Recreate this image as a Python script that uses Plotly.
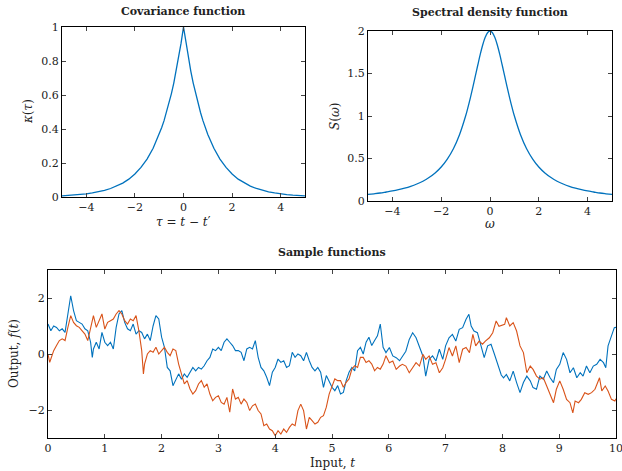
import plotly.graph_objects as go

# ---------------- data ----------------
# half-grid (tau >= 0) for covariance
tau_half = [0, 0.1, 0.2, 0.3, 0.4, 0.5, 0.6, 0.7, 0.8, 0.9, 1.0, 1.25, 1.5, 1.75, 2.0,
            2.25, 2.5, 2.75, 3.0, 3.25, 3.5, 3.75, 4.0, 4.25, 4.5, 4.75, 5.0]
kappa_half = [1.0, 0.905, 0.819, 0.741, 0.670, 0.607, 0.549, 0.497, 0.449, 0.407, 0.368,
              0.287, 0.223, 0.174, 0.135, 0.105, 0.082, 0.064, 0.050, 0.039, 0.030,
              0.024, 0.018, 0.014, 0.011, 0.009, 0.007]
omega_half = tau_half
S_half = [2.0, 1.98, 1.923, 1.835, 1.724, 1.6, 1.471, 1.342, 1.22, 1.105, 1.0,
          0.78, 0.615, 0.493, 0.4, 0.330, 0.276, 0.233, 0.2, 0.173, 0.151,
          0.133, 0.118, 0.106, 0.094, 0.085, 0.077]

t_blue = [0, 0.05, 0.1, 0.15, 0.2, 0.25, 0.3, 0.35, 0.4, 0.45, 0.5, 0.55, 0.6, 0.65, 0.7,
          0.75, 0.78, 0.8, 0.85, 0.9, 0.95, 1.0, 1.05, 1.1, 1.15, 1.2, 1.25, 1.3, 1.35, 1.4,
          1.45, 1.5, 1.55, 1.6, 1.65, 1.7, 1.75, 1.8, 1.85, 1.9, 1.95, 2.0, 2.05, 2.1, 2.15,
          2.2, 2.25, 2.3, 2.35, 2.4, 2.45, 2.5, 2.55, 2.6, 2.65, 2.7, 2.75, 2.8, 2.85, 2.9,
          2.95, 3.0, 3.05, 3.1, 3.15, 3.2, 3.25, 3.3, 3.35, 3.4, 3.45, 3.5, 3.55, 3.6, 3.65,
          3.7, 3.75, 3.8, 3.85, 3.9, 3.95, 4.0, 4.05, 4.1, 4.15, 4.2, 4.25, 4.3, 4.35, 4.4,
          4.45, 4.5, 4.55, 4.6, 4.65, 4.7, 4.75, 4.8, 4.85, 4.9, 4.95, 5.0, 5.05, 5.1, 5.15,
          5.2, 5.25, 5.3, 5.35, 5.4, 5.45, 5.5, 5.55, 5.6, 5.65, 5.7, 5.75, 5.8, 5.85, 5.9,
          5.95, 6.01, 6.07, 6.13, 6.19, 6.24, 6.3, 6.36, 6.42, 6.48, 6.54, 6.6, 6.65, 6.71,
          6.77, 6.83, 6.89, 6.95, 7.0, 7.06, 7.12, 7.18, 7.24, 7.3, 7.36, 7.41, 7.45, 7.5,
          7.56, 7.62, 7.68, 7.74, 7.8, 7.86, 7.92, 7.98, 8.02, 8.07, 8.13, 8.19, 8.25, 8.31,
          8.37, 8.43, 8.49, 8.54, 8.6, 8.66, 8.72, 8.78, 8.84, 8.9, 8.95, 9.01, 9.07, 9.13,
          9.19, 9.25, 9.31, 9.37, 9.42, 9.48, 9.54, 9.6, 9.66, 9.72, 9.78, 9.82, 9.86, 9.92,
          9.97, 10.0]
f_blue = [1.07, 0.83, 1.0, 0.95, 0.83, 0.9, 0.77, 1.43, 2.08, 1.55, 1.19, 1.13, 1.07, 0.9, 0.83,
          0.42, -0.12, 0.18, 0.42, 0.18, 0.77, 0.42, 0.3, 0.42, 0.18, 0.95, 1.43, 1.55, 1.13, 0.9,
          0.83, 1.07, 0.71, 0.83, 0.77, 0.54, 0.71, 0.48, 1.0, 1.37, 1.25, 0.6, 0.24, -0.48, -0.6,
          -1.13, -0.9, -0.71, -0.9, -0.71, -0.83, -0.65, -0.48, -0.6, -0.48, -0.54, -0.42, -0.24, -0.12, 0.18,
          0.12, 0.24, 0.12, 0.42, 0.54, 0.42, 0.3, 0.12, 0.12, 0.06, -0.24, 0.18, 0.24, 0.18, 0.48,
          -0.12, -0.48, -0.6, -0.83, -1.13, -0.65, -0.48, -0.18, -0.3, -0.24, -0.48, -0.42, 0.06, -0.12, 0.0,
          -0.06, -0.24, 0.06, -0.24, -0.48, -0.6, -0.48, -0.65, -1.19, -0.77, -1.01, -1.19, -1.31, -1.13, -1.43,
          -1.37, -0.95, -0.65, -0.48, -0.6, 0.12, 0.24, 0.0, 0.42, 0.6, 0.3, 0.48, 0.65, 1.07, 0.24,
          0.05, 0.23, -0.07, -0.13, -0.24, -0.07, 0.1, 0.52, 0.76, 0.58, 0.23, -0.07, -0.79, -0.19,
          -0.07, -0.25, 0.17, -0.19, 0.29, 0.58, 0.7, 0.46, 0.88, 0.94, 1.24, 1.42, 1.0, 0.82,
          0.76, 0.29, -0.13, 0.29, 0.35, -0.01, -0.37, -0.75, -0.85, -0.73, -0.96, -0.61, -1.02, -1.38,
          -1.02, -0.79, -0.96, -1.2, -1.26, -0.79, -0.9, -0.61, -0.85, -1.02, -0.55, -0.37, 0.05, -0.19,
          -0.67, -0.49, -0.85, -0.67, -0.79, -0.43, -0.67, -0.43, -0.37, -0.19, -0.31, -0.49, 0.29, 0.64,
          0.94, 0.95]

t_orange = [0, 0.03, 0.05, 0.1, 0.15, 0.2, 0.25, 0.3, 0.35, 0.4, 0.45, 0.5, 0.55, 0.6, 0.65,
            0.7, 0.75, 0.8, 0.85, 0.9, 0.95, 1.0, 1.05, 1.1, 1.15, 1.2, 1.25, 1.3, 1.35, 1.4,
            1.45, 1.5, 1.55, 1.6, 1.65, 1.68, 1.7, 1.75, 1.8, 1.85, 1.9, 1.95, 2.0, 2.05, 2.1,
            2.15, 2.2, 2.25, 2.3, 2.35, 2.4, 2.45, 2.5, 2.55, 2.6, 2.65, 2.7, 2.75, 2.8, 2.85,
            2.9, 2.95, 3.0, 3.05, 3.1, 3.15, 3.2, 3.25, 3.3, 3.35, 3.4, 3.45, 3.5, 3.55, 3.6,
            3.65, 3.7, 3.75, 3.8, 3.85, 3.9, 3.95, 4.0, 4.05, 4.1, 4.15, 4.2, 4.25, 4.3, 4.35,
            4.4, 4.45, 4.5, 4.55, 4.6, 4.65, 4.7, 4.75, 4.8, 4.85, 4.9, 4.95, 5.0, 5.05, 5.1,
            5.15, 5.2, 5.25, 5.3, 5.35, 5.4, 5.45, 5.5, 5.55, 5.6, 5.65, 5.7, 5.75, 5.8, 5.85,
            5.9, 5.95, 6.01, 6.07, 6.13, 6.19, 6.24, 6.3, 6.36, 6.42, 6.48, 6.54, 6.6, 6.65,
            6.71, 6.77, 6.83, 6.89, 6.95, 7.0, 7.06, 7.12, 7.18, 7.24, 7.3, 7.36, 7.42, 7.48,
            7.53, 7.59, 7.65, 7.7, 7.77, 7.83, 7.89, 7.94, 8.0, 8.04, 8.07, 8.13, 8.19, 8.25,
            8.31, 8.37, 8.43, 8.49, 8.54, 8.6, 8.66, 8.72, 8.78, 8.84, 8.9, 8.95, 9.01, 9.07,
            9.13, 9.19, 9.24, 9.28, 9.34, 9.39, 9.45, 9.51, 9.57, 9.63, 9.71, 9.75, 9.81, 9.86,
            9.92, 9.98, 10.0]
f_orange = [0.0, -0.3, -0.18, 0.12, 0.3, 0.48, 0.54, 0.48, 0.95, 1.37, 1.13, 1.01, 0.95, 0.83, 0.71,
            0.48, 0.95, 1.37, 0.95, 1.19, 1.43, 0.89, 1.13, 1.19, 1.25, 1.43, 1.55, 1.43, 1.19, 1.07,
            1.25, 1.19, 1.37, 0.83, 0.12, -0.71, -0.36, 0.0, 0.12, 0.06, 0.24, 0.0, 0.12, 0.24, 0.06,
            -0.06, 0.18, 0.12, -0.36, -0.77, -1.07, -0.95, -1.25, -1.43, -1.31, -1.07, -0.95, -1.19, -1.07, -1.43,
            -1.67, -1.55, -1.49, -1.73, -1.79, -1.55, -2.08, -1.25, -1.61, -1.55, -1.79, -1.61, -1.73, -2.02, -1.85,
            -1.79, -2.02, -2.14, -2.56, -2.5, -2.68, -2.74, -2.92, -2.74, -2.86, -2.68, -2.8, -2.62, -2.5, -2.56,
            -2.02, -1.79, -2.02, -2.68, -2.26, -2.38, -2.5, -2.44, -2.26, -2.2, -1.9, -1.43, -1.13, -0.89, -0.95,
            -0.95, -1.19, -1.01, -0.89, -0.54, -0.42, -0.48, -0.12, -0.12, -0.3, -0.24, -0.36, -0.6, -0.48, -0.54,
            -0.36, -0.06, -0.31, -0.25, -0.55, -0.43, -0.37, -0.43, -0.67, -0.49, -0.31, -0.43, -0.01, -0.19,
            -0.07, -0.37, -0.31, -0.67, -0.49, -0.19, 0.23, -0.07, 0.29, -0.31, 0.17, 0.23, 0.05, 0.7,
            0.29, 0.46, 0.35, 0.46, 0.58, 0.76, 1.18, 0.99, 1.03, 1.06, 1.3, 1.0, 1.12, 0.82,
            0.29, 0.05, -0.67, -0.43, -0.55, -0.79, -0.9, -0.85, -1.14, -1.44, -1.74, -1.26, -0.96, -1.26,
            -1.62, -1.74, -2.1, -1.68, -1.74, -1.62, -1.38, -1.44, -1.38, -1.26, -0.85, -1.32, -1.14, -1.32,
            -1.62, -1.68, -1.6]

# ---------------- figure ----------------
W, H = 622, 471
BLUE = "#0072BD"
ORANGE = "#D95319"
FONT = "DejaVu Serif"

tau = [-v for v in tau_half[::-1]] + tau_half[1:]
kappa = kappa_half[::-1] + kappa_half[1:]
omega = [-v for v in omega_half[::-1]] + omega_half[1:]
S = S_half[::-1] + S_half[1:]


def px_x(a, b):
    return [a / W, b / W]


def px_y(top, bottom):
    return [1 - bottom / H, 1 - top / H]


fig = go.Figure()
fig.add_trace(go.Scatter(x=tau, y=kappa, mode="lines", line=dict(color=BLUE, width=1.3),
                         xaxis="x", yaxis="y", showlegend=False))
fig.add_trace(go.Scatter(x=omega, y=S, mode="lines", line=dict(color=BLUE, width=1.3),
                         xaxis="x2", yaxis="y2", showlegend=False, line_shape="spline"))
fig.add_trace(go.Scatter(x=t_blue, y=f_blue, mode="lines", line=dict(color=BLUE, width=1.1),
                         xaxis="x3", yaxis="y3", showlegend=False))
fig.add_trace(go.Scatter(x=t_orange, y=f_orange, mode="lines", line=dict(color=ORANGE, width=1.1),
                         xaxis="x3", yaxis="y3", showlegend=False))

axis_common = dict(showline=True, mirror="ticks", linecolor="black", linewidth=1,
                   ticks="inside", ticklen=4, tickcolor="#444", showgrid=False,
                   zeroline=False, automargin=False, ticklabeloverflow="allow",
                   tickfont=dict(family=FONT, size=11, color="#222"))

fig.update_layout(
    width=W, height=H, margin=dict(l=0, r=0, t=0, b=0),
    paper_bgcolor="white", plot_bgcolor="white",
    font=dict(family=FONT, color="#222"),
    xaxis=dict(domain=px_x(62, 305), range=[-5, 5], tickvals=[-4, -2, 0, 2, 4], anchor="y", **axis_common),
    yaxis=dict(domain=px_y(27, 197), range=[0, 1], tickvals=[0, 0.2, 0.4, 0.6, 0.8, 1], anchor="x", **axis_common),
    xaxis2=dict(domain=px_x(368, 612), range=[-5, 5], tickvals=[-4, -2, 0, 2, 4], anchor="y2", **axis_common),
    yaxis2=dict(domain=px_y(31, 201), range=[0, 2], tickvals=[0, 0.5, 1, 1.5, 2], anchor="x2", **axis_common),
    xaxis3=dict(domain=px_x(48, 616), range=[0, 10], tickvals=list(range(11)), anchor="y3", **axis_common),
    yaxis3=dict(domain=px_y(270, 438), range=[-3, 3], tickvals=[-2, 0, 2], anchor="x3", **axis_common),
)


def ann(text, x, y, size=12, bold=False, angle=0):
    fig.add_annotation(text=f"<b>{text}</b>" if bold else text, x=x / W, y=1 - y / H,
                       xref="paper", yref="paper", showarrow=False, textangle=angle,
                       font=dict(family=FONT, size=size, color="#222"),
                       xanchor="center", yanchor="middle")


ann("Covariance function", 183, 12, 11, True)
ann("Spectral density function", 490, 13, 11, True)
ann("Sample functions", 332, 252, 11, True)
ann("<i>τ</i> = <i>t</i> − <i>t</i>′", 183, 222, 12)
ann("<i>ω</i>", 490, 224, 12)
ann("<i>κ</i>(<i>τ</i>)", 28, 112, 12, angle=-90)
ann("<i>S</i>(<i>ω</i>)", 335, 116, 12, angle=-90)
ann("Output, <i>f</i>(<i>t</i>)", 14, 354, 12, angle=-90)
ann("Input, <i>t</i>", 332, 463, 12)

fig.write_html("out.html")
